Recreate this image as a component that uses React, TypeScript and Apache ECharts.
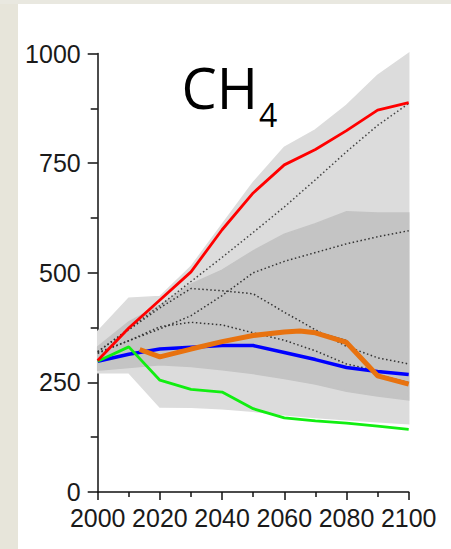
import React, { useEffect, useRef } from "react";
import * as echarts from "echarts";

const years = [2000, 2010, 2020, 2030, 2040, 2050, 2060, 2070, 2080, 2090, 2100];
const outerLow = [272, 272, 194, 193, 190, 184, 176, 170, 165, 160, 156];
const outerHigh = [366, 442, 446, 514, 610, 706, 786, 826, 882, 950, 1000];
const innerLow = [278, 284, 290, 286, 279, 270, 259, 246, 230, 219, 210];
const innerHigh = [331, 388, 426, 474, 506, 550, 588, 612, 639, 636, 636];
const dotted1 = [320, 372, 425, 480, 535, 592, 650, 712, 776, 836, 886];
const dotted2 = [318, 345, 372, 402, 448, 500, 526, 546, 566, 582, 596];
const dotted3 = [320, 370, 420, 464, 459, 452, 410, 370, 332, 306, 292];
const dotted4 = [316, 345, 377, 387, 381, 363, 346, 322, 292, 276, 268];
const redLine = [300, 374, 438, 502, 598, 682, 746, 781, 824, 871, 888];
const blueLine = [298, 314, 326, 330, 334, 334, 318, 302, 284, 275, 268];
const greenLine = [298, 331, 255, 234, 228, 190, 169, 162, 157, 150, 143];
const orangeYears = [2013.5, 2020, 2030, 2040, 2050, 2060, 2065, 2070, 2080, 2090, 2100];
const orangeLine = [325, 308, 326, 343, 357, 365, 367, 363, 341, 265, 246];
const blackYears = [2060, 2070, 2080, 2090, 2100];
const blackLine = [368, 366, 346, 268, 250];
const yTicks = [0, 250, 500, 750, 1000];
const xTicks = [2000, 2020, 2040, 2060, 2080, 2100];

const pairs = (xs: number[], ys: number[]) => xs.map((x, i) => [x, ys[i]]);

export default function App() {
  const ref = useRef<HTMLDivElement>(null);
  useEffect(() => {
    if (!ref.current) return;
    const chart = echarts.init(ref.current, undefined, { renderer: "svg" });
    const plain = (data: number[][], color: string, width: number, type: any = "solid", z = 3) => ({
      type: "line",
      data,
      showSymbol: false,
      symbol: "none",
      silent: true,
      z,
      lineStyle: { color, width, type },
    });
    const band = (low: number[], high: number[], color: string, z: number) => ({
      type: "custom",
      silent: true,
      z,
      data: years.map((y, i) => [y, low[i], high[i]]),
      renderItem: (params: any, api: any) => {
        if (params.dataIndex !== 0) return null;
        const top = years.map((y, i) => api.coord([y, high[i]]));
        const bottom = years.map((y, i) => api.coord([y, low[i]])).reverse();
        return {
          type: "polygon",
          shape: { points: top.concat(bottom) },
          style: { fill: color, stroke: color, lineWidth: 1.5 },
        };
      },
    });
    chart.setOption({
      animation: false,
      backgroundColor: "#ffffff",
      grid: { left: 97.7, right: 42.3, top: 53.5, bottom: 57 },
      xAxis: {
        type: "value",
        min: 2000,
        max: 2100,
        interval: 20,
        axisLine: { show: true, lineStyle: { color: "#111", width: 1.5 } },
        axisTick: { show: true, length: 8, lineStyle: { color: "#111", width: 1.5 } },
        minorTick: { show: true, splitNumber: 2, length: 5, lineStyle: { color: "#111", width: 1.5 } },
        splitLine: { show: false },
        axisLabel: {
          margin: 13,
          color: "#1a1a1a",
          fontSize: 25,
          fontFamily: "Liberation Sans",
          formatter: (v: number) => (xTicks.includes(v) ? String(v) : ""),
        },
      },
      yAxis: {
        type: "value",
        min: 0,
        max: 1000,
        interval: 250,
        axisLine: { show: true, lineStyle: { color: "#111", width: 1.5 } },
        axisTick: { show: true, length: 10, lineStyle: { color: "#111", width: 1.5 } },
        minorTick: { show: true, splitNumber: 2, length: 7, lineStyle: { color: "#111", width: 1.5 } },
        splitLine: { show: false },
        axisLabel: {
          margin: 17,
          color: "#1a1a1a",
          fontSize: 25,
          fontFamily: "Liberation Sans",
          lineHeight: 24,
          padding: [0, 0, 5, 0],
          formatter: (v: number) => (yTicks.includes(v) ? String(v) : ""),
        },
      },
      graphic: [
        { type: "rect", left: 0, top: 0, shape: { x: 0, y: 0, width: 18, height: 549 }, style: { fill: "#e7e5da" }, z: 100 },
        { type: "rect", left: 0, top: 0, shape: { x: 0, y: 0, width: 451, height: 4 }, style: { fill: "#e9e8e0" }, z: 100 },
        {
          type: "text",
          x: 181.5,
          y: 87,
          z: 100,
          style: { text: "CH", font: "56px 'Open Sans'", fill: "#000", textAlign: "left", textVerticalAlign: "middle" },
        },
        {
          type: "text",
          x: 259,
          y: 114,
          z: 100,
          style: { text: "4", font: "32px 'Open Sans'", fill: "#000", textAlign: "left", textVerticalAlign: "middle" },
        },
      ],
      series: [
        band(outerLow, outerHigh, "#dcdcdc", 1),
        band(innerLow, innerHigh, "#c4c4c4", 2),
        plain(pairs(years, dotted1), "#444", 1.5, [1.5, 2.5]),
        plain(pairs(years, dotted2), "#333", 1.5, [1.5, 2.5]),
        plain(pairs(years, dotted3), "#333", 1.5, [1.5, 2.5]),
        plain(pairs(years, dotted4), "#333", 1.5, [1.5, 2.5]),
        plain(pairs(years, blueLine), "#0000ff", 3.5, "solid", 4),
        plain(pairs(years, greenLine), "#11ee11", 2.8, "solid", 4),
        plain(pairs(years, redLine), "#ff0000", 2.8, "solid", 4),
        plain(pairs(blackYears, blackLine), "#333", 1, "solid", 4),
        plain(pairs(orangeYears, orangeLine), "#e8720f", 5, "solid", 5),
      ],
    });
    return () => chart.dispose();
  }, []);
  return <div ref={ref} style={{ position: "fixed", left: 0, top: 0, width: 451, height: 549 }} />;
}
